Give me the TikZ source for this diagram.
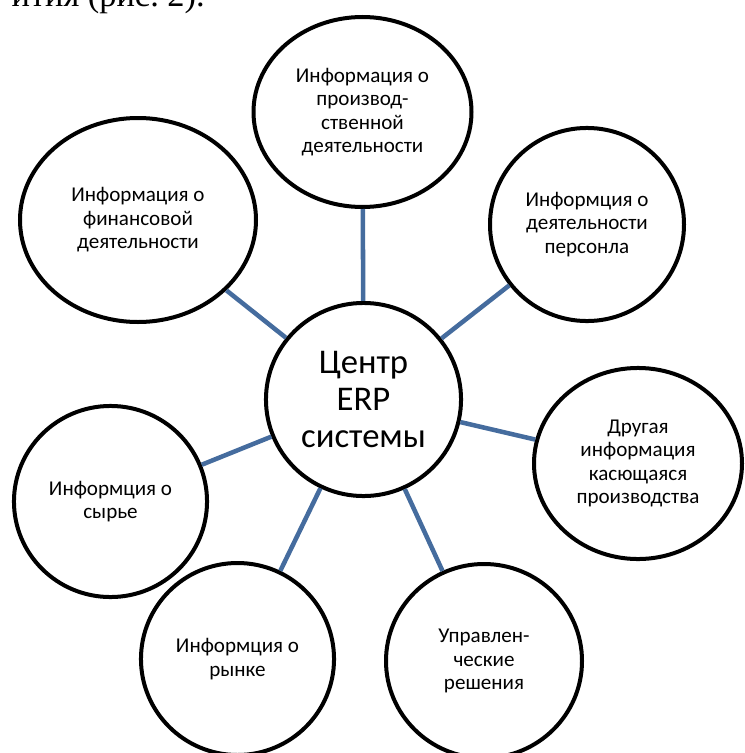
\documentclass[tikz,border=0pt]{standalone}
\usepackage{fontspec}
\setmainfont{Carlito}
\newfontfamily\pageserif{Liberation Serif}
\usepackage{xcolor}
\usepackage{tikz}
\usetikzlibrary{shapes.geometric}

\definecolor{linkblue}{RGB}{69,108,158}

\begin{document}
\begin{tikzpicture}[
		x=0.75pt, y=-0.75pt,
		bubble/.style={
			ellipse,
			draw=black,
			line width=3pt,
			fill=white,
			inner sep=0pt,
			align=center,
			font=\fontsize{15.8}{17.6}\selectfont
		},
		hub/.style={
			bubble,
			font=\fontsize{26}{28}\selectfont
		},
		link/.style={
			draw=linkblue,
			line width=3.4pt
		}
		]
		
		\useasboundingbox (0,0) rectangle (744,753);
		
		% cut-off line of the page text
		\node[anchor=base east, font=\pageserif\fontsize{25.8}{28}\selectfont, inner sep=0pt] (pagetext) at (205,6.5) {ития (рис.~2).};
		
		\node[hub, minimum width=146.3pt, minimum height=144.8pt] (erp) at (363.5,399.5)
		{Центр\\ERP\\системы};
		
		\node[bubble, minimum width=163.5pt, minimum height=142.5pt] (prod) at (362.5,112)
		{Информация о\\производ-\\ственной\\деятельности};
		
		\node[bubble, minimum width=177pt, minimum height=153pt] (fin) at (138,220)
		{Информация о\\финансовой\\деятельности};
		
		\node[bubble, minimum width=145.5pt, minimum height=144.8pt] (staff) at (587,224.5)
		{Информция о\\деятельности\\персонла};
		
		\node[bubble, minimum width=156pt, minimum height=143.3pt] (other) at (638,463.5)
		{Другая\\информация\\касющаяся\\производства};
		
		\node[bubble, minimum width=144.8pt, minimum height=143.3pt] (raw) at (110.5,501.5)
		{Информция о\\сырье};
		
		\node[bubble, minimum width=144.8pt, minimum height=144pt] (market) at (237.5,659)
		{Информция о\\рынке};
		
		\node[bubble, minimum width=147pt, minimum height=145.5pt] (mgmt) at (484,661)
		{Управлен-\\ческие\\решения};
		
		\draw[link] (erp) -- (prod);
		\draw[link] (erp) -- (fin);
		\draw[link] (erp) -- (staff);
		\draw[link] (erp) -- (other);
		\draw[link] (erp) -- (raw);
		\draw[link] (erp) -- (market);
		\draw[link] (erp) -- (mgmt);
		
	\end{tikzpicture}
\end{document}
